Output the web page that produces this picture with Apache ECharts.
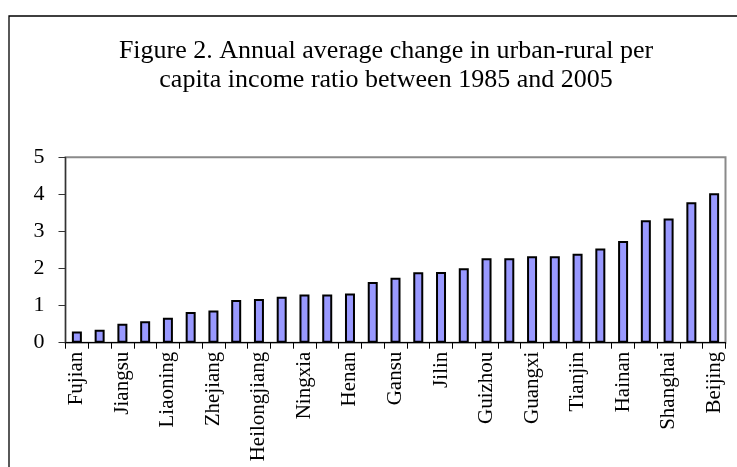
<!DOCTYPE html>
<html>
<head>
<meta charset="utf-8">
<script src="https://cdn.jsdelivr.net/npm/echarts@6/dist/echarts.min.js"></script>
<style>
html,body{margin:0;padding:0;background:#fff;}
#chart{width:737px;height:467px;}
</style>
</head>
<body>
<div id="chart"></div>
<script>
const titleText = 'Figure 2. Annual average change in urban-rural per\ncapita income ratio between 1985 and 2005';
const provinces = ['Fujian','Shandong','Jiangsu','Guangdong','Liaoning','Hebei','Zhejiang','Anhui','Heilongjiang','Hubei','Ningxia','Jiangxi','Henan','Hunan','Gansu','Shanxi','Jilin','Sichuan','Guizhou','Inner Mongolia','Guangxi','Shaanxi','Tianjin','Qinghai','Hainan','Yunnan','Shanghai','Xinjiang','Beijing'];
const ratioChange = [0.30,0.35,0.51,0.58,0.67,0.83,0.87,1.15,1.18,1.24,1.30,1.30,1.33,1.64,1.75,1.90,1.91,2.01,2.28,2.28,2.33,2.33,2.40,2.54,2.74,3.30,3.35,3.79,4.03];
const yTicks = [0,1,2,3,4,5];

const chart = echarts.init(document.getElementById('chart'), null, {renderer:'canvas'});
const serif = 'Liberation Serif, Times New Roman, serif';
chart.setOption({
  backgroundColor:'#ffffff',
  animation:false,
  title:{
    text:titleText,
    left:381, top:32, textAlign:'center',
    textStyle:{fontFamily:serif, fontSize:26, fontWeight:'normal', color:'#000', lineHeight:29}
  },
  graphic:[{
    type:'rect', shape:{x:9, y:16, width:900, height:600},
    style:{fill:'none', stroke:'#000', lineWidth:1.3}, silent:true, z:-1
  }],
  grid:{left:65.5, right:11.5, top:157.3, bottom:124.3, show:true, borderColor:'#8a8a8a', borderWidth:2, backgroundColor:'transparent'},
  xAxis:{
    type:'category', data:provinces, boundaryGap:true,
    axisLine:{show:true, lineStyle:{color:'#000', width:1.2}},
    axisTick:{show:true, interval:0, alignWithLabel:false, length:6, inside:false, lineStyle:{color:'#000', width:1}},
    axisLabel:{interval:1, rotate:90, margin:9, fontFamily:serif, fontSize:21, color:'#000'},
    splitLine:{show:false}
  },
  yAxis:{
    type:'value', min:yTicks[0], max:yTicks[yTicks.length-1], interval:1,
    axisLine:{show:true, lineStyle:{color:'#333', width:1.2}},
    axisTick:{show:true, length:7, lineStyle:{color:'#333', width:1}},
    axisLabel:{margin:21, fontFamily:serif, fontSize:22, color:'#000'},
    splitLine:{show:false}
  },
  series:[{
    type:'bar', data:ratioChange, barWidth:10,
    itemStyle:{color:'#9999ff', borderColor:'#000', borderWidth:2}
  }]
});
</script>
</body>
</html>
